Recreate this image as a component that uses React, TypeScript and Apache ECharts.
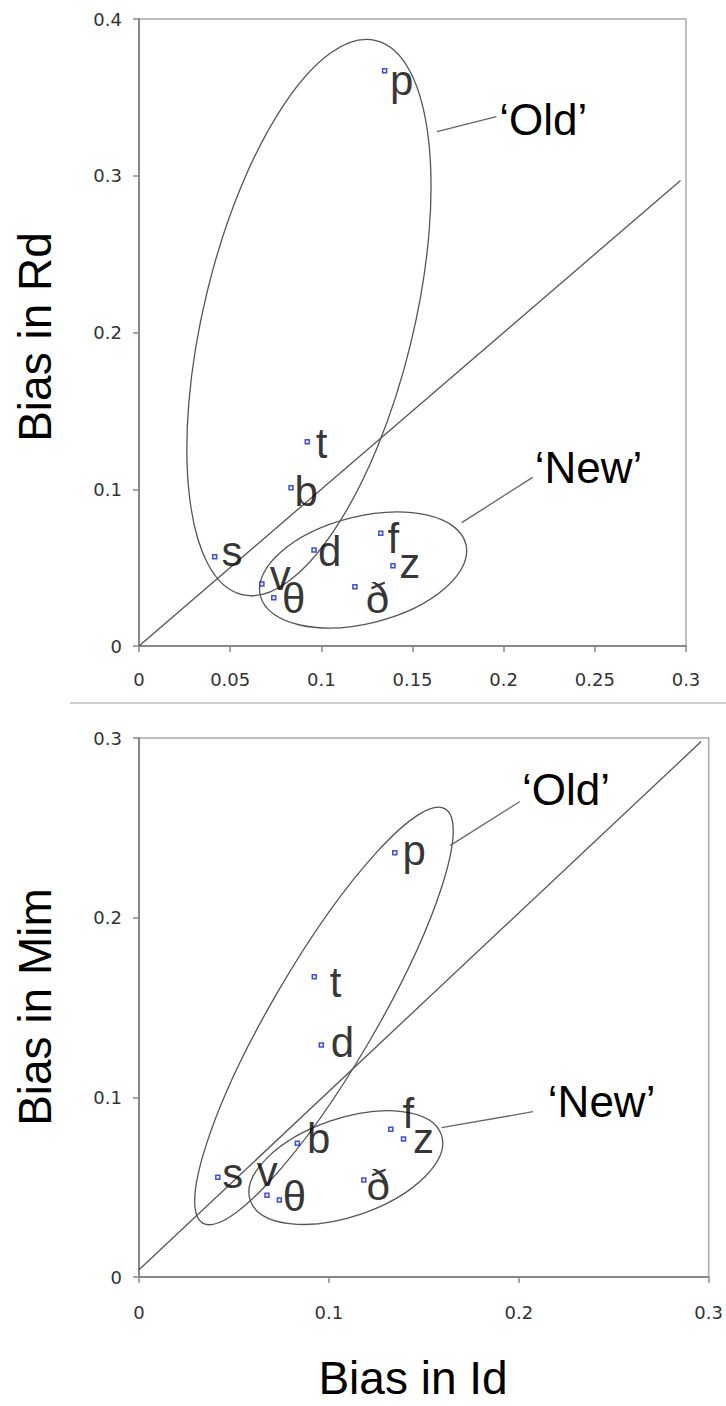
import React, { useEffect, useRef } from "react";
import * as echarts from "echarts";

// ---- data ----
const phonemes = ["p", "t", "b", "s", "d", "v", "θ", "ð", "f", "z"];
const biasId = [0.1347, 0.0923, 0.0834, 0.0415, 0.096, 0.0674, 0.0739, 0.1184, 0.1326, 0.1393];
const biasRd = [0.367, 0.1303, 0.101, 0.057, 0.0612, 0.0396, 0.0308, 0.0378, 0.0719, 0.0512];
const biasMim = [0.2362, 0.1671, 0.0744, 0.0555, 0.1291, 0.0455, 0.0429, 0.054, 0.0822, 0.0768];

const topXTicks = { min: 0, max: 0.3, interval: 0.05 };
const topYTicks = { min: 0, max: 0.4, interval: 0.1 };
const botXTicks = { min: 0, max: 0.3, interval: 0.1 };
const botYTicks = { min: 0, max: 0.3, interval: 0.1 };

const groupNames = ["\u2018Old\u2019", "\u2018New\u2019"];

// ---- annotation geometry (data-space anchors) ----
const topDiagonal = [[0, 0], [0.297, 0.297]];
const botDiagonal = [[0, 0.004], [0.296, 0.298]];

// ellipse: [cx, cy] data, rx/ry px, rotation deg (counter-clockwise)
const topEllipses = [
  { c: [0.0932, 0.2095], rx: 285, ry: 105, rot: 76.4 },
  { c: [0.1229, 0.0485], rx: 106, ry: 53.5, rot: 14.2 },
];
const botEllipses = [
  { c: [0.0974, 0.1453], rx: 240, ry: 52, rot: 59.7 },
  { c: [0.1089, 0.0609], rx: 101, ry: 49, rot: 19 },
];
const topLeaders = [
  [0.1634, 0.3281, 0.196, 0.3377],
  [0.177, 0.0787, 0.2159, 0.1076],
];
const botLeaders = [
  [0.1638, 0.2401, 0.2004, 0.2645],
  [0.1593, 0.0831, 0.2075, 0.092],
];
// baseline-left anchors for 'Old' / 'New'
const topGroupPos = [[0.1976, 0.326], [0.217, 0.1038]];
const botGroupPos = [[0.2017, 0.2627], [0.2153, 0.0889]];

// label offsets (px) per phoneme
const topLabelOffsets: Record<string, number[]> = {
  p: [2.6, 9.6], t: [5.6, 1.9], b: [0.7, 4.3], s: [4, -4.7], d: [1.3, 1.3],
  v: [5, -8.7], "θ": [5.6, 0.9], "ð": [8, 11.9], f: [4, 5.3], z: [3.4, -2.1],
};
const botLabelOffsets: Record<string, number[]> = {
  p: [5, -2.4], t: [12.7, 5.3], b: [7, -4.7], s: [1.7, -3.7], d: [6.6, -3],
  v: [-13, -23.3], "θ": [0.7, -3], "ð": [0, 5.3], f: [9, -15.7], z: [6.7, -0.4],
};

const LINE = "#555";
const LABEL_FONT = "Arial, 'Liberation Sans', sans-serif";

function scatterData(ys: number[], offsets: Record<string, number[]>) {
  return phonemes.map((n, i) => ({
    name: n,
    value: [biasId[i], ys[i]],
    label: { offset: offsets[n] },
  }));
}

function scatterSeries(idx: number, ys: number[], offsets: Record<string, number[]>) {
  return {
    type: "scatter",
    xAxisIndex: idx,
    yAxisIndex: idx,
    symbol: "rect",
    symbolSize: 4,
    z: 5,
    itemStyle: { color: "#e8ecff", borderColor: "#1426c8", borderWidth: 1.5 },
    label: {
      show: true,
      position: "right",
      distance: 0,
      formatter: "{b}",
      fontSize: 42,
      fontFamily: LABEL_FONT,
      color: "#000",
    },
    data: scatterData(ys, offsets),
  };
}

function ellipseSeries(idx: number, ells: any[]) {
  return {
    type: "custom",
    xAxisIndex: idx,
    yAxisIndex: idx,
    clip: false,
    silent: true,
    data: ells.map((e, i) => [e.c[0], e.c[1], i]),
    renderItem: (params: any, api: any) => {
      const e = ells[api.value(2)];
      const p = api.coord([api.value(0), api.value(1)]);
      return {
        type: "ellipse",
        x: p[0],
        y: p[1],
        rotation: (e.rot * Math.PI) / 180,
        shape: { cx: 0, cy: 0, rx: e.rx, ry: e.ry },
        style: { fill: "none", stroke: LINE, lineWidth: 1.3 },
      };
    },
  };
}

function leaderSeries(idx: number, leaders: number[][]) {
  return {
    type: "custom",
    xAxisIndex: idx,
    yAxisIndex: idx,
    clip: false,
    silent: true,
    data: leaders,
    renderItem: (params: any, api: any) => {
      const a = api.coord([api.value(0), api.value(1)]);
      const b = api.coord([api.value(2), api.value(3)]);
      return {
        type: "line",
        shape: { x1: a[0], y1: a[1], x2: b[0], y2: b[1] },
        style: { stroke: "#666", lineWidth: 1.3 },
      };
    },
  };
}

function groupLabelSeries(idx: number, pos: number[][]) {
  return {
    type: "custom",
    xAxisIndex: idx,
    yAxisIndex: idx,
    clip: false,
    silent: true,
    data: pos.map((p, i) => [p[0], p[1], i]),
    renderItem: (params: any, api: any) => {
      const p = api.coord([api.value(0), api.value(1)]);
      const fs = 44;
      return {
        type: "text",
        x: p[0],
        y: p[1] - fs * 0.35,
        style: {
          text: groupNames[api.value(2)],
          fontSize: fs,
          fontFamily: LABEL_FONT,
          fill: "#000",
          align: "left",
          verticalAlign: "middle",
        },
      };
    },
  };
}

function diagSeries(idx: number, pts: number[][]) {
  return {
    type: "line",
    xAxisIndex: idx,
    yAxisIndex: idx,
    symbol: "none",
    silent: true,
    lineStyle: { color: LINE, width: 1.3 },
    data: pts,
  };
}

const axisLabelStyle = {
  fontFamily: "'DejaVu Sans', Verdana, sans-serif",
  fontSize: 18,
  color: "#333",
};

function xAxis(idx: number, t: any, margin: number) {
  return {
    type: "value",
    gridIndex: idx,
    min: t.min,
    max: t.max,
    interval: t.interval,
    axisLine: { show: true, onZero: false, lineStyle: { color: "#888", width: 2 } },
    axisTick: { show: true, length: 6, lineStyle: { color: "#888", width: 1.5 } },
    splitLine: { show: false },
    axisLabel: {
      ...axisLabelStyle,
      margin,
      formatter: (v: number) => String(parseFloat(v.toFixed(2))),
    },
  };
}

function yAxis(idx: number, t: any) {
  return {
    type: "value",
    gridIndex: idx,
    min: t.min,
    max: t.max,
    interval: t.interval,
    axisLine: { show: true, onZero: false, lineStyle: { color: "#888", width: 2 } },
    axisTick: { show: true, length: 6, lineStyle: { color: "#888", width: 1.5 } },
    splitLine: { show: false },
    axisLabel: {
      ...axisLabelStyle,
      margin: 17,
      formatter: (v: number) => String(parseFloat(v.toFixed(2))),
    },
  };
}

export default function App() {
  const ref = useRef<HTMLDivElement>(null);
  useEffect(() => {
    if (!ref.current) return;
    const chart = echarts.init(ref.current, null, { renderer: "svg" });
    const titleFont = { fontFamily: LABEL_FONT, fontSize: 46, fill: "#000" };
    chart.setOption({
      animation: false,
      backgroundColor: "#ffffff",
      grid: [
        { left: 139, top: 19, width: 547, height: 627, show: true, borderColor: "#aaa", borderWidth: 1.5 },
        { left: 139, top: 738, width: 570, height: 539, show: true, borderColor: "#aaa", borderWidth: 1.5 },
      ],
      xAxis: [xAxis(0, topXTicks, 24), xAxis(1, botXTicks, 26)],
      yAxis: [yAxis(0, topYTicks), yAxis(1, botYTicks)],
      series: [
        diagSeries(0, topDiagonal),
        ellipseSeries(0, topEllipses),
        leaderSeries(0, topLeaders),
        groupLabelSeries(0, topGroupPos),
        scatterSeries(0, biasRd, topLabelOffsets),
        diagSeries(1, botDiagonal),
        ellipseSeries(1, botEllipses),
        leaderSeries(1, botLeaders),
        groupLabelSeries(1, botGroupPos),
        scatterSeries(1, biasMim, botLabelOffsets),
      ],
      graphic: [
        {
          type: "line",
          shape: { x1: 70, y1: 703, x2: 726, y2: 703 },
          style: { stroke: "#cfcfcf", lineWidth: 2 },
        },
        {
          type: "text",
          x: 35,
          y: 337,
          rotation: Math.PI / 2,
          style: { ...titleFont, text: "Bias in Rd", align: "center", verticalAlign: "middle" },
        },
        {
          type: "text",
          x: 35,
          y: 1007,
          rotation: Math.PI / 2,
          style: { ...titleFont, text: "Bias in Mim", align: "center", verticalAlign: "middle" },
        },
        {
          type: "text",
          x: 413,
          y: 1378,
          style: { ...titleFont, text: "Bias in Id", align: "center", verticalAlign: "middle" },
        },
      ],
    });
    return () => chart.dispose();
  }, []);
  return (
    <div
      ref={ref}
      style={{ position: "absolute", left: 0, top: 0, width: 726, height: 1406 }}
    />
  );
}
